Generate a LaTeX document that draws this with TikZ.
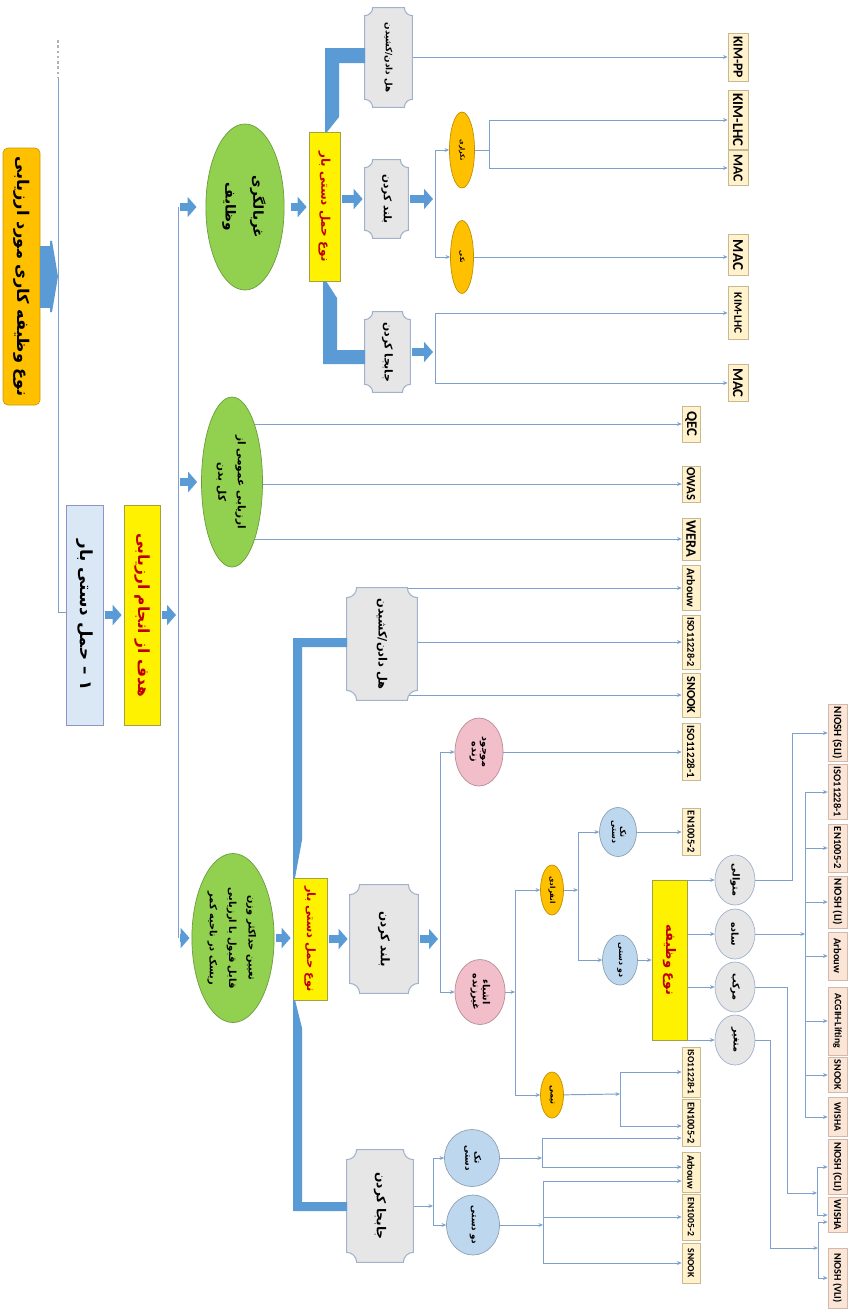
\documentclass[tikz,border=0pt]{standalone}
\usepackage{fontspec}
\usepackage{graphicx}
\usetikzlibrary{arrows.meta,shapes.geometric}
\newfontfamily\fa[Script=Arabic]{DejaVu Sans}
\newfontfamily\lat{Carlito}
\TeXXeTstate=1

\definecolor{linecol}{RGB}{125,160,205}
\definecolor{blkcol}{RGB}{91,155,213}
\definecolor{ttlfill}{RGB}{255,192,0}
\definecolor{hamlfill}{RGB}{218,232,245}
\definecolor{grnfill}{RGB}{146,208,80}
\definecolor{plqfill}{RGB}{231,230,230}
\definecolor{plqdraw}{RGB}{160,178,204}
\definecolor{methfill}{RGB}{255,242,204}
\definecolor{methdraw}{RGB}{200,185,145}
\definecolor{peachfill}{RGB}{251,229,214}
\definecolor{peachdraw}{RGB}{214,184,168}
\definecolor{pinkfill}{RGB}{242,190,202}
\definecolor{bluefill}{RGB}{189,215,238}
\definecolor{redtxt}{RGB}{192,0,0}

\pgfdeclarelayer{bg}
\pgfdeclarelayer{mid}
\pgfsetlayers{bg,mid,main}

\newcommand\vt[1]{\rotatebox{-90}{#1}}
\newcommand\fl[1]{\vt{\fa #1}}
\newcommand\flII[2]{\vt{\fa\begin{tabular}{@{}c@{}}#1\\#2\end{tabular}}}
\newcommand\flIII[3]{\vt{\fa\begin{tabular}{@{}c@{}}#1\\#2\\#3\end{tabular}}}
% box with concave corners behind node #1, corner radius #2
\newcommand\plaque[2]{%
  \draw[plqline] ([xshift=#2]#1.north west) -- ([xshift=-#2]#1.north east)
    arc[start angle=180,end angle=270,radius=#2] -- ([yshift=#2]#1.south east)
    arc[start angle=90,end angle=180,radius=#2] -- ([xshift=#2]#1.south west)
    arc[start angle=0,end angle=90,radius=#2] -- ([yshift=-#2]#1.north west)
    arc[start angle=270,end angle=360,radius=#2] -- cycle;}

\renewcommand\arraystretch{1.05}

\tikzset{
  sz/.style 2 args={minimum width=#1*0.2mm, minimum height=#2*0.2mm},
  fs/.style={font=\bfseries\fontsize{#1}{#1}\selectfont},
  fsl/.style 2 args={font=\bfseries\fontsize{#1}{#2}\selectfont},
  lfs/.style={font=\lat\bfseries\fontsize{#1}{#1}\selectfont},
  wire/.style={draw=linecol, line width=0.55pt},
  conn/.style={wire, -{Stealth[length=2.6pt,width=2.2pt]}},
  blk/.style={draw=blkcol, line width=1.6mm, -{Triangle[length=1.8mm,width=4mm]},
    shorten <=0.4mm, shorten >=0.4mm},
  band/.style={fill=blkcol},
  ttl/.style={draw=ttlfill!80!black, fill=ttlfill, rounded corners=1mm, inner sep=0pt, fs=9.2},
  hamlbox/.style={draw=hamlfill!70!blue!60!gray, fill=hamlfill, inner sep=0pt, fs=9.5},
  ylw/.style={draw=yellow!60!black, fill=yellow, text=redtxt, inner sep=0pt},
  grn/.style={ellipse, draw=grnfill!75!black, fill=grnfill, inner sep=0pt},
  plq/.style={inner sep=0pt},
  plqline/.style={draw=plqdraw, fill=plqfill, line width=0.6pt},
  org/.style={ellipse, draw=ttlfill!75!black, fill=ttlfill, inner sep=0pt},
  pnk/.style={ellipse, draw=pinkfill!75!black, fill=pinkfill, inner sep=0pt},
  blu/.style={ellipse, draw=bluefill!75!black, fill=bluefill, inner sep=0pt},
  gcir/.style={ellipse, draw=plqdraw, fill=plqfill, inner sep=0pt},
  meth/.style={draw=methdraw, fill=methfill, line width=0.4pt, inner sep=0pt},
  peach/.style={draw=peachdraw, fill=peachfill, line width=0.4pt, inner sep=0pt}
}

\begin{document}
\begin{tikzpicture}[x=0.2mm,y=-0.2mm]
\useasboundingbox (0,0) rectangle (848,1312);
\begin{pgfonlayer}{bg}
  \fill[white] (0,0) rectangle (848,1312);
\end{pgfonlayer}

% left column
\node[ttl, sz={37}{257}] (title) at (21.5,276.5) {\fl{\beginR نوع وظیفه کاری مورد ارزیابی\endR}};
\coordinate (spine) at (58,612);
\node[hamlbox, sz={37}{220}] (haml) at (84.5,615) {\fl{\beginR ۱ – حمل دستی بار\endR}};
\node[ylw, sz={36}{220}, fs=8.8] (hadaf) at (142,615) {\fl{\beginR هدف از انجام ارزیابی\endR}};
\coordinate (bus) at (178,612);

% goals
\node[grn, sz={66}{166}, fsl={7.8}{15}] (g1) at (245,207) {\flII{\beginR غربالگری\endR}{\beginR وظایف\endR}};
\node[grn, sz={61}{170}, fsl={6}{10.5}] (g2) at (232,482) {\flII{\beginR ارزیابی عمومی از\endR}{\beginR کل بدن\endR}};
\node[grn, sz={63}{169}, fsl={5.6}{10.5}] (g3) at (233,938) {\flIII{\beginR تعیین حداکثر وزن\endR}{\beginR قابل قبول با ارزیابی\endR}{\beginR ریسک در ناحیه کمر\endR}};

\node[ylw, sz={31}{149}, fs=6.8] (y1) at (324.5,206.5) {\fl{\beginR نوع حمل دستی بار\endR}};
\node[ylw, sz={34}{122}, fs=6.5] (y2) at (310,939) {\fl{\beginR نوع حمل دستی بار\endR}};

% kinds of handling
\node[plq, sz={47}{99}, fs=5] (p1) at (388.5,57.5) {\fl{\beginR هل دادن/کشیدن\endR}};
\node[plq, sz={43}{78}, fs=6] (p2) at (386.5,199) {\fl{\beginR بلند کردن\endR}};
\node[plq, sz={45}{80}, fs=6.2] (p3) at (387.5,352) {\fl{\beginR جابجا کردن\endR}};
\node[plq, sz={70}{112}, fs=6.5] (p4) at (382,644) {\fl{\beginR هل دادن/کشیدن\endR}};
\node[plq, sz={68}{108}, fs=6.8] (p5) at (384,939) {\fl{\beginR بلند کردن\endR}};
\node[plq, sz={66}{112}, fs=7] (p6) at (380,1206) {\fl{\beginR جابجا کردن\endR}};

\coordinate (j1) at (435,199);
\coordinate (j2) at (489,150);
\coordinate (j3) at (435,352);
\coordinate (j4) at (440,939);
\coordinate (j5) at (515,992);
\coordinate (j6) at (578,890);
\coordinate (j7) at (805,934);
\coordinate (j8) at (817,1193);
\coordinate (j9) at (818,1248);
\coordinate (j9a) at (818,1222);
\coordinate (j10) at (433,1206);
\coordinate (j11) at (542,1158);
\coordinate (j11a) at (542,1138);
\coordinate (j11b) at (542,1167);
\coordinate (j12) at (543,1225);
\coordinate (j12a) at (543,1181);
\coordinate (j13) at (620,1094);
\coordinate (j13b) at (620,1126);

\node[org, sz={25}{76}, fs=3.5] (o1) at (462,150) {\fl{\beginR تکراری\endR}};
\node[org, sz={23}{73}, fs=3.5] (o2) at (462,257) {\fl{\beginR تکی\endR}};
\node[org, sz={23}{50}, fs=4] (o3) at (552,890) {\fl{\beginR انفرادی\endR}};
\node[org, sz={23}{46}, fs=4.5] (o4) at (552,1095) {\fl{\beginR تیمی\endR}};

\node[pnk, sz={48}{68}, fs=5.5] (pk1) at (479,752) {\flII{\beginR موجود\endR}{\beginR زنده\endR}};
\node[pnk, sz={50}{65}, fs=5.5] (pk2) at (480,992) {\flII{\beginR اشیاء\endR}{\beginR غیرزنده\endR}};

\node[blu, sz={37}{49}, fs=4.5] (b1) at (618,832) {\flII{\beginR تک\endR}{\beginR دستی\endR}};
\node[blu, sz={35}{50}, fs=4.5] (b2) at (620,960) {\fl{\beginR دو دستی\endR}};
\node[blu, sz={55}{57}, fs=5] (b3) at (472,1158) {\flII{\beginR تک\endR}{\beginR دستی\endR}};
\node[blu, sz={53}{60}, fs=5] (b4) at (473,1225) {\fl{\beginR دو دستی\endR}};

\node[ylw, sz={35}{160}, fs=7.5] (y3) at (669.5,960) {\fl{\beginR نوع وظیفه\endR}};
\node[gcir, sz={40}{50}, fs=5.5] (c1) at (735,880) {\fl{\beginR متوالی\endR}};
\node[gcir, sz={40}{50}, fs=5.5] (c2) at (735,934) {\fl{\beginR ساده\endR}};
\node[gcir, sz={40}{50}, fs=5.5] (c3) at (735,987) {\fl{\beginR مرکب\endR}};
\node[gcir, sz={40}{50}, fs=5.5] (c4) at (735,1040) {\fl{\beginR متغیر\endR}};

% methods
\foreach \nm/\yc/\h/\fs/\txt in {kpp/57/48/7.8/KIM-PP, klhca/120/59/8.4/KIM-LHC,
    maca/168/35/7.8/MAC, macb/255/41/8.6/MAC, klhcb/313/53/6.4/KIM-LHC, macc/383/37/8.4/MAC}
  \node[meth, sz={20}{\h}, lfs=\fs] (\nm) at (738,\yc) {\vt{\txt}};
\foreach \nm/\yc/\h/\fs/\txt in {qec/424/36/8.4/QEC, owas/484/36/7.2/OWAS, wera/539/42/8.2/WERA,
    arba/588/45/6.6/Arbouw, isob/642/54/5.9/ISO11228-2, snka/695/44/7/SNOOK,
    isoa/752/57/6.3/ISO11228-1, ena/832/47/6/EN1005-2, isoc/1072/50/5.4/ISO11228-1,
    enc/1123/47/5.9/EN1005-2, arbb/1172/40/5.8/Arbouw, enf/1217/46/5.5/EN1005-2,
    snkb/1263/40/5.4/SNOOK}
  \node[meth, sz={18}{\h}, lfs=\fs] (\nm) at (691,\yc) {\vt{\txt}};
\foreach \nm/\yc/\h/\fs/\txt in {nsli/733/57/6.3/NIOSH (SLI), isod/792/55/6/ISO11228-1,
    enb/848/48/6/EN1005-2, nli/902/52/6.2/NIOSH (LI), arbc/956/48/6/Arbouw,
    acgih/1021/68/5.6/ACGIH-Lifting, snkc/1075/35/5.7/SNOOK, wsha/1117/39/5.6/WISHA,
    ncli/1167/55/5.9/NIOSH (CLI), wshb/1215/35/6/WISHA, nvli/1278/60/5.8/NIOSH (VLI)}
  \node[peach, sz={19}{\h}, lfs=\fs] (\nm) at (837.5,\yc) {\vt{\txt}};

% concave boxes
\begin{pgfonlayer}{mid}
  \plaque{p1}{1.6mm}
  \plaque{p2}{1.6mm}
  \plaque{p3}{1.6mm}
  \plaque{p4}{2mm}
  \plaque{p5}{2mm}
  \plaque{p6}{2mm}
\end{pgfonlayer}

% thick bent connectors
\fill[band] (325,132) -- (325,48) -- (365,48) -- (365,63) -- (339,63) -- (339,117) -- (327,132) -- cycle;
\fill[band] (323,281) -- (326,281) -- (337,298) -- (337,350) -- (365,350) -- (365,364) -- (323,364) -- cycle;
\fill[band] (293,878) -- (293,638) -- (347,638) -- (347,647) -- (302,647) -- (302,840) -- (295,878) -- cycle;
\fill[band] (293,1000) -- (295,1000) -- (302,1028) -- (302,1202) -- (347,1202) -- (347,1211) -- (293,1211) -- cycle;

% block arrows
\draw[draw=blkcol, line width=12.4mm, -{Triangle[length=1.6mm,width=19mm]}] (title.east) -- (title.east -| spine);
\draw[blk] (haml) -- (hadaf);
\draw[blk] (hadaf) -- (hadaf -| bus);
\draw[blk, shorten >=1.8mm] (bus |- g1) -- (g1);
\draw[blk, shorten >=0.8mm] (bus |- g2) -- (g2);
\draw[blk] (bus |- g3) -- (g3);
\draw[blk, shorten <=1.4mm] (g1) -- (g1 -| y1.west);
\draw[blk] (g3) -- (g3 -| y2.west);
\draw[blk] (y1.east |- p2) -- (p2);
\draw[blk] (p2) -- (j1);
\draw[blk] (p3) -- (j3);
\draw[blk] (y2) -- (p5);
\draw[blk] (p5) -- (j4);

\begin{pgfonlayer}{bg}
  % spine and bus
  \draw[draw=gray!60, line width=0.9pt, dash pattern=on 1.5pt off 1.5pt] (58,40) -- (58,78);
  \draw[wire] (58,78) -- (spine) -- (haml.west |- spine);
  \draw[wire] (bus |- g1) -- (bus |- g3);
  % upper branch
  \draw[conn] (p1 |- kpp) -- (kpp.west);
  \draw[wire] (j1 |- o1) -- (j1 |- o2);
  \draw[conn] (j1 |- o1) -- (o1.west);
  \draw[conn] (j1 |- o2) -- (o2.west);
  \draw[wire] (o1) -- (j2);
  \draw[wire] (j2 |- klhca) -- (j2 |- maca);
  \draw[conn] (j2 |- klhca) -- (klhca.west);
  \draw[conn] (j2 |- maca) -- (maca.west);
  \draw[conn] (o2) -- (o2 -| macb.west);
  \draw[wire] (j3 |- klhcb) -- (j3 |- macc);
  \draw[conn] (j3 |- klhcb) -- (klhcb.west);
  \draw[conn] (j3 |- macc) -- (macc.west);
  % whole body
  \foreach \b in {qec,owas,wera}
    \draw[conn] (g2 |- \b) -- (\b.west);
  % lower branch
  \foreach \b in {arba,isob,snka}
    \draw[conn] (p4 |- \b) -- (\b.west);
  \draw[wire] (j4 |- pk1) -- (j4 |- pk2);
  \draw[conn] (j4 |- pk1) -- (pk1.west);
  \draw[conn] (j4 |- pk2) -- (pk2.west);
  \draw[conn] (pk1) -- (pk1 -| isoa.west);
  \draw[conn] (pk2) -- (j5);
  \draw[wire] (j5 |- o3) -- (j5 |- o4);
  \draw[conn] (j5 |- o3) -- (o3.west);
  \draw[conn] (j5 |- o4) -- (o4.west);
  \draw[conn] (o3) -- (j6);
  \draw[wire] (j6 |- b1) -- (j6 |- b2);
  \draw[conn] (j6 |- b1) -- (b1.west);
  \draw[conn] (j6 |- b2) -- (b2.west);
  \draw[conn] (b1) -- (b1 -| ena.west);
  \draw[conn] (b2) -- (b2 -| y3.west);
  \foreach \c in {c1,c2,c3,c4}
    \draw[conn] (y3 |- \c) -- (\c.west);
  \draw[conn] (c1) -- ++(57,0) |- (nsli.west);
  \draw[conn] (c2) -- (j7);
  \draw[wire] (j7 |- isod) -- (j7 |- wsha);
  \foreach \b in {isod,enb,nli,arbc,acgih,snkc,wsha}
    \draw[conn] (j7 |- \b) -- (\b.west);
  \draw[conn] (c3) -- ++(52,0) |- (j8);
  \draw[wire] (j8 |- ncli) -- (j8 |- wshb);
  \draw[conn] (j8 |- ncli) -- (ncli.west);
  \draw[conn] (j8 |- wshb) -- (wshb.west);
  \draw[conn] (c4) -- ++(35,0) |- (j9);
  \draw[wire] (j9a) -- (j9 |- nvli);
  \draw[conn] (j9a) -- (j9a -| wshb.west);
  \draw[conn] (j9 |- nvli) -- (nvli.west);
  \draw[conn] (o4) -- (j13);
  \draw[wire] (j13 |- isoc) -- (j13b);
  \draw[conn] (j13 |- isoc) -- (isoc.west);
  \draw[conn] (j13b) -- (j13b -| enc.west);
  % carrying
  \draw[conn] (p6) -- (j10);
  \draw[wire] (j10 |- b3) -- (j10 |- b4);
  \draw[conn] (j10 |- b3) -- (b3.west);
  \draw[conn] (j10 |- b4) -- (b4.west);
  \draw[conn] (b3) -- (j11);
  \draw[wire] (j11a) -- (j11b);
  \draw[conn] (j11a) -- (j11a -| enc.west);
  \draw[conn] (j11b) -- (j11b -| arbb.west);
  \draw[conn] (b4) -- (j12);
  \draw[wire] (j12a) -- (j12 |- snkb);
  \draw[conn] (j12a) -- (j12a -| arbb.west);
  \draw[conn] (j12 |- enf) -- (enf.west);
  \draw[conn] (j12 |- snkb) -- (snkb.west);
\end{pgfonlayer}
\end{tikzpicture}
\end{document}
